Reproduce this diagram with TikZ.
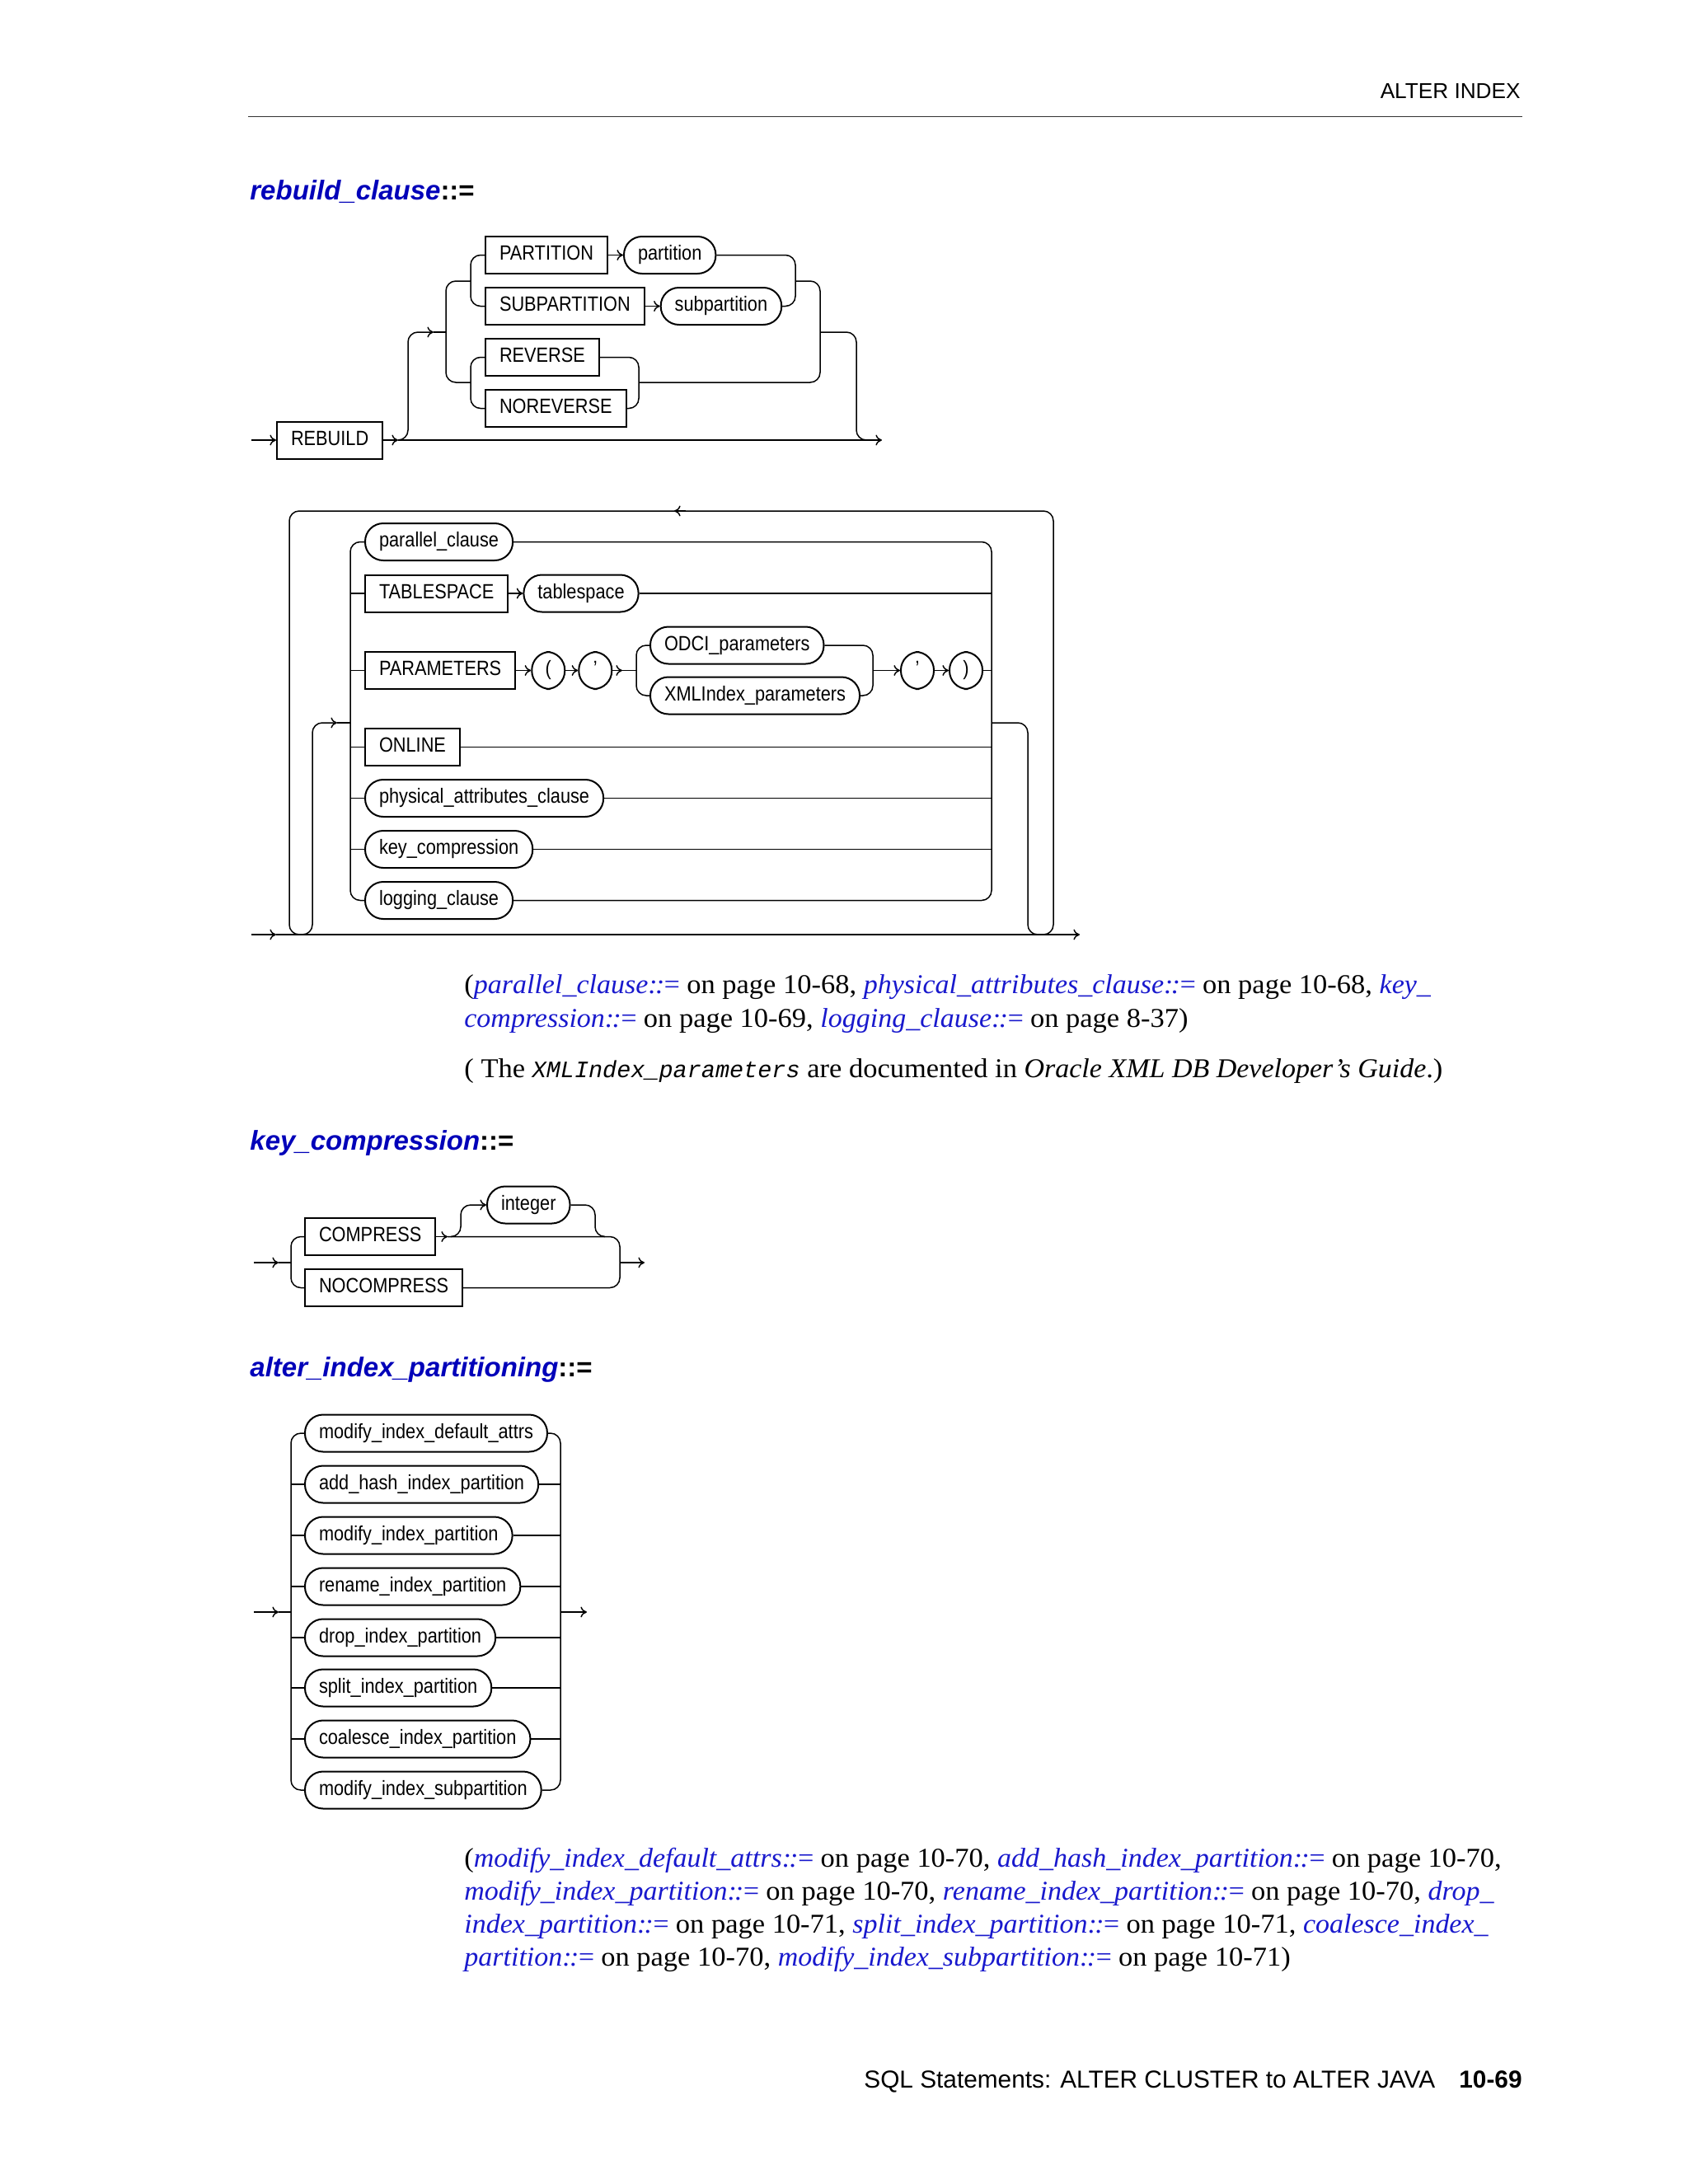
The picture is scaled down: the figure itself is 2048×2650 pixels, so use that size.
\documentclass[tikz,border=0pt]{standalone}
\usepackage{fontspec}
\usetikzlibrary{arrows.meta,positioning}
\setmainfont{Liberation Serif}
\newfontfamily\dgf{Liberation Sans}[FakeStretch=0.87]
\newfontfamily\hsf{Liberation Sans}
\newfontfamily\bsf{Liberation Serif}[FakeStretch=1.045, ItalicFeatures={FakeStretch=1.03}]
\newfontfamily\msf{Liberation Mono}
\definecolor{ttl}{RGB}{0,0,185}
\definecolor{lnk}{RGB}{25,25,205}
\newcommand\dgsz{\dgf\fontsize{12.5pt}{15pt}\selectfont}
\newcommand\bodysz{\bsf\fontsize{16.5pt}{20pt}\selectfont}
\newcommand\ttlf{\hsf\fontsize{16.5pt}{20pt}\selectfont\bfseries}
\newcommand\lk[1]{{\color{lnk}\itshape #1}}
\newcommand\cce{:\kern-.08em:\kern-.08em=\kern-.06em}
\tikzset{
  kw/.style={draw, line width=1pt, anchor=west, minimum height=22.5pt, inner ysep=0pt,
    inner xsep=8.5pt, text height=8pt, text depth=2pt, font=\dgsz},
  nt/.style={kw, rounded corners=11pt},
  ntc/.style={nt, minimum width=20pt, inner xsep=0pt},
  ln/.style={line width=0.75pt, rounded corners=6pt},
  ar/.style={-{To[length=3.8pt,width=6.5pt]}},
  ttlnode/.style={anchor=base west, font=\ttlf, inner sep=0pt},
  txt/.style={anchor=base west, font=\bodysz, inner sep=0pt}
}
\begin{document}
\begin{tikzpicture}[x=0.5pt,y=-0.5pt]
\fill[white] (0,0) rectangle (2048,2650);
\useasboundingbox (0,0) rectangle (2048,2650);

% header / footer
\node[anchor=base east, font=\hsf\fontsize{13.1pt}{15pt}\selectfont, inner sep=0pt] (hd) at (1845,119) {ALTER INDEX};
\coordinate (hl0) at (301,141.5);
\coordinate (hl1) at (1847,141.5);
\draw[line width=0.7pt, black!80] (hl0) -- (hl1);
\node[anchor=base west, font=\hsf\fontsize{14.9pt}{17pt}\selectfont, inner sep=0pt] (ft) at (1048,2533) {SQL Statements: ALTER CLUSTER to ALTER JAVA};
\node[anchor=base east, font=\hsf\bfseries\fontsize{14.9pt}{17pt}\selectfont, inner sep=0pt] (pg) at (1847,2533) {10-69};

% ---------------- rebuild_clause
\node[ttlnode] (t1) at (303,242) {{\color{ttl}\itshape rebuild\_clause}::=};
\coordinate (r0) at (305,534);
\node[kw] (rb) at (335,534) {REBUILD};
\coordinate (r1) at (483,534);
\coordinate (r9) at (1070,534);
\draw[ln,ar] (r0) -- (rb.west);
\draw[ln,ar] (rb.east) -- (r1);
\draw[ln,ar] (r1) -- (r9);
\coordinate (r2) at (526,403);
\draw[ln,ar] (r1) -- (495,534) -- (495,403) -- (r2);

\node[kw] (pt) at (588,309.5) {PARTITION};
\node[nt, right=9pt of pt] (pto) {partition};
\node[kw] (sp) at (588,371.5) {SUBPARTITION};
\node[nt, right=9pt of sp] (spo) {subpartition};
\node[kw] (rv) at (588,433.5) {REVERSE};
\node[kw] (nrv) at (588,495.5) {NOREVERSE};

\draw[ln] (r2) -- (541,403);
\draw[ln] (571,341) -- (541,341) -- (541,464) -- (571,464);
\draw[ln] (pt.west) -- (571,309.5) -- (571,371.5) -- (sp.west);
\draw[ln] (rv.west) -- (571,433.5) -- (571,495.5) -- (nrv.west);
\draw[ln,ar] (pt) -- (pto);
\draw[ln,ar] (sp) -- (spo);
\draw[ln] (pto.east) -- (965,309.5) -- (965,371.5) -- (spo.east);
\draw[ln] (rv.east) -- (775,433.5) -- (775,495.5) -- (nrv.east);
\draw[ln] (965,341) -- (995,341) -- (995,464) -- (775,464);
\draw[ln] (995,403) -- (1039,403) -- (1039,534) -- (1054,534);

% ---------------- rebuild options loop
\coordinate (s0) at (305,1134);
\coordinate (s1) at (335,1134);
\coordinate (s9) at (1310,1134);
\draw[ln,ar] (s0) -- (s1);
\draw[ln,ar] (s1) -- (s9);
\draw[ln] (363,1134) -- (351,1134) -- (351,620) -- (1278,620) -- (1278,1134) -- (1266,1134);
\coordinate (lpa) at (832,620);
\coordinate (lpb) at (818,620);
\draw[ln,ar] (lpa) -- (lpb);
\coordinate (s2) at (409,877);
\draw[ln,ar] (367,1134) -- (379,1134) -- (379,877) -- (s2);
\draw[ln] (s2) -- (425,877);

\node[nt] (pc) at (442,657.5) {parallel\_clause};
\node[kw] (ts) at (442,720) {TABLESPACE};
\node[nt, right=8.5pt of ts] (tso) {tablespace};
\node[kw] (pm) at (442,813.5) {PARAMETERS};
\node[ntc, right=9pt of pm] (lp) {(};
\node[ntc, right=7.5pt of lp] (q1) {’};
\coordinate (s3) at (755,813.5);
\node[nt] (odci) at (788,783) {ODCI\_parameters};
\node[nt] (xmlp) at (788,844) {XMLIndex\_parameters};
\node[ntc] (q2) at (1092,813.5) {’};
\node[ntc, right=8.5pt of q2] (rp) {)};
\node[kw] (on) at (442,906.5) {ONLINE};
\node[nt] (pac) at (442,968.5) {physical\_attributes\_clause};
\node[nt] (kc) at (442,1030.5) {key\_compression};
\node[nt] (lgc) at (442,1092.5) {logging\_clause};
\coordinate (gx) at (1203,0);

\draw[ln] (pc.west) -- (425,657.5) -- (425,1092.5) -- (lgc.west);
\foreach \n in {ts,pm,on,pac,kc} { \draw[ln] (\n.west) -- ++(-17,0); }
\draw[ln] (pc.east) -- (1203,657.5) -- (1203,1092.5) -- (lgc.east);
\foreach \n in {tso,rp,on,pac,kc} { \draw[ln] (\n.east) -- (\n.east -| gx); }
\draw[ln,ar] (ts) -- (tso);
\draw[ln,ar] (pm) -- (lp);
\draw[ln,ar] (lp) -- (q1);
\draw[ln,ar] (q1) -- (s3);
\draw[ln] (s3) -- (772,813.5);
\draw[ln] (odci.west) -- (772,783) -- (772,844) -- (xmlp.west);
\draw[ln] (odci.east) -- (1059,783) -- (1059,844) -- (xmlp.east);
\draw[ln,ar] (1059,813.5) -- (q2.west);
\draw[ln,ar] (q2) -- (rp);
\draw[ln] (1203,877) -- (1247,877) -- (1247,1134) -- (1262,1134);

% ---------------- notes 1
\node[txt] (n11) at (563,1205) {(\lk{parallel\_clause\cce} on page 10-68, \lk{physical\_attributes\_clause\cce} on page 10-68, \lk{key\_}};
\node[txt] (n12) at (563,1246) {\lk{compression\cce} on page 10-69, \lk{logging\_clause\cce} on page 8-37)};
\node[txt] (n2) at (563,1307) {( The {\msf\itshape\fontsize{14.25pt}{17pt}\selectfont XMLIndex\_parameters} are documented in \textit{Oracle XML DB Developer’s Guide}.)};

% ---------------- key_compression
\node[ttlnode] (t2) at (303,1395) {{\color{ttl}\itshape key\_compression}::=};
\coordinate (k0) at (308,1532);
\coordinate (k1) at (338,1532);
\draw[ln,ar] (k0) -- (k1);
\draw[ln] (k1) -- (353,1532);
\node[kw] (cmp) at (369,1500.5) {COMPRESS};
\node[kw] (ncmp) at (369,1562.5) {NOCOMPRESS};
\node[nt] (int) at (590,1462) {integer};
\draw[ln] (cmp.west) -- (353,1500.5) -- (353,1562.5) -- (ncmp.west);
\coordinate (k2) at (543,1500.5);
\draw[ln,ar] (cmp) -- (k2);
\draw[ln] (k2) -- (752,1500.5) -- (752,1562.5) -- (ncmp.east);
\draw[ln,ar] (547,1500.5) -- (559,1500.5) -- (559,1462) -- (int.west);
\draw[ln] (int.east) -- (722,1462) -- (722,1500.5) -- (734,1500.5);
\coordinate (k9) at (782,1532);
\draw[ln,ar] (752,1532) -- (k9);

% ---------------- alter_index_partitioning
\node[ttlnode] (t3) at (303,1670) {{\color{ttl}\itshape alter\_index\_partitioning}::=};
\coordinate (a0) at (308,1956);
\coordinate (aa) at (338,1956);
\draw[ln,ar] (a0) -- (aa);
\draw[ln] (aa) -- (353,1956);
\node[nt] (a1) at (369,1739) {modify\_index\_default\_attrs};
\node[nt] (a2) at (369,1801) {add\_hash\_index\_partition};
\node[nt] (a3) at (369,1863) {modify\_index\_partition};
\node[nt] (a4) at (369,1925) {rename\_index\_partition};
\node[nt] (a5) at (369,1987) {drop\_index\_partition};
\node[nt] (a6) at (369,2048) {split\_index\_partition};
\node[nt] (a7) at (369,2110) {coalesce\_index\_partition};
\node[nt] (a8) at (369,2172) {modify\_index\_subpartition};
\coordinate (ax) at (680,0);
\draw[ln] (a1.west) -- (353,1739) -- (353,2172) -- (a8.west);
\draw[ln] (a1.east) -- (680,1739) -- (680,2172) -- (a8.east);
\foreach \n in {a2,a3,a4,a5,a6,a7} {
  \draw[ln] (\n.west) -- ++(-16,0);
  \draw[ln] (\n.east) -- (\n.east -| ax);
}
\coordinate (a9) at (712,1956);
\draw[ln,ar] (680,1956) -- (a9);

% ---------------- notes 2
\node[txt] (m1) at (563,2265) {(\lk{modify\_index\_default\_attrs\cce} on page 10-70, \lk{add\_hash\_index\_partition\cce} on page 10-70,};
\node[txt] (m2) at (563,2305) {\lk{modify\_index\_partition\cce} on page 10-70, \lk{rename\_index\_partition\cce} on page 10-70, \lk{drop\_}};
\node[txt] (m3) at (563,2345) {\lk{index\_partition\cce} on page 10-71, \lk{split\_index\_partition\cce} on page 10-71, \lk{coalesce\_index\_}};
\node[txt] (m4) at (563,2385) {\lk{partition\cce} on page 10-70, \lk{modify\_index\_subpartition\cce} on page 10-71)};
\end{tikzpicture}
\end{document}
